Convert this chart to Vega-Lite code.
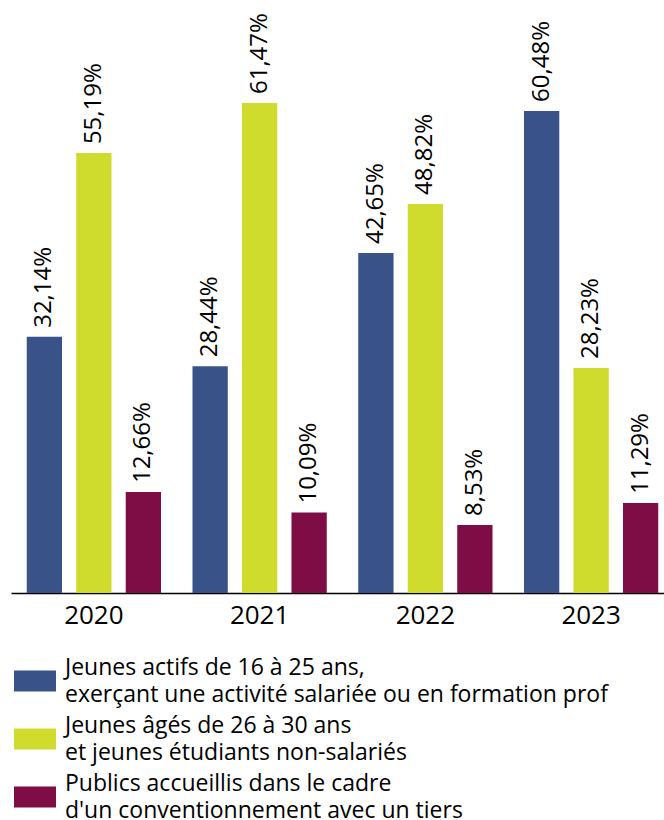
{
  "$schema": "https://vega.github.io/schema/vega-lite/v6.json",
  "width": 653,
  "height": 593,
  "autosize": {"type": "none"},
  "padding": {"left": 11, "top": 0, "right": 0, "bottom": 227},
  "background": "white",
  "data": {
    "values": [
      {"year": "2020", "serie": "Jeunes actifs de 16 à 25 ans,|exerçant une activité salariée ou en formation prof", "value": 32.14},
      {"year": "2020", "serie": "Jeunes âgés de 26 à 30 ans|et jeunes étudiants non-salariés", "value": 55.19},
      {"year": "2020", "serie": "Publics accueillis dans le cadre|d'un conventionnement avec un tiers", "value": 12.66},
      {"year": "2021", "serie": "Jeunes actifs de 16 à 25 ans,|exerçant une activité salariée ou en formation prof", "value": 28.44},
      {"year": "2021", "serie": "Jeunes âgés de 26 à 30 ans|et jeunes étudiants non-salariés", "value": 61.47},
      {"year": "2021", "serie": "Publics accueillis dans le cadre|d'un conventionnement avec un tiers", "value": 10.09},
      {"year": "2022", "serie": "Jeunes actifs de 16 à 25 ans,|exerçant une activité salariée ou en formation prof", "value": 42.65},
      {"year": "2022", "serie": "Jeunes âgés de 26 à 30 ans|et jeunes étudiants non-salariés", "value": 48.82},
      {"year": "2022", "serie": "Publics accueillis dans le cadre|d'un conventionnement avec un tiers", "value": 8.53},
      {"year": "2023", "serie": "Jeunes actifs de 16 à 25 ans,|exerçant une activité salariée ou en formation prof", "value": 60.48},
      {"year": "2023", "serie": "Jeunes âgés de 26 à 30 ans|et jeunes étudiants non-salariés", "value": 28.23},
      {"year": "2023", "serie": "Publics accueillis dans le cadre|d'un conventionnement avec un tiers", "value": 11.29}
    ]
  },
  "transform": [
    {"calculate": "replace(format(datum.value, '.2f'), '.', ',') + '%'", "as": "label"}
  ],
  "encoding": {
    "x": {
      "field": "year", "type": "nominal",
      "scale": {"range": [0, 663], "paddingInner": 0, "paddingOuter": 0},
      "axis": {
        "title": null, "labelAngle": 0, "ticks": false, "domainColor": "#000000",
        "domainWidth": 1.5, "labelFontSize": 26, "labelFont": "Open Sans",
        "labelColor": "#000000", "labelPadding": 9
      }
    },
    "xOffset": {
      "field": "serie", "type": "nominal",
      "scale": {"paddingInner": 0.287, "paddingOuter": 0.318},
      "sort": [
        "Jeunes actifs de 16 à 25 ans,|exerçant une activité salariée ou en formation prof",
        "Jeunes âgés de 26 à 30 ans|et jeunes étudiants non-salariés",
        "Publics accueillis dans le cadre|d'un conventionnement avec un tiers"
      ]
    },
    "y": {
      "field": "value", "type": "quantitative",
      "scale": {"domain": [0, 74.4], "nice": false},
      "axis": null
    }
  },
  "layer": [
    {
      "mark": {"type": "bar"},
      "encoding": {
        "color": {
          "field": "serie", "type": "nominal",
          "scale": {
            "domain": [
              "Jeunes actifs de 16 à 25 ans,|exerçant une activité salariée ou en formation prof",
              "Jeunes âgés de 26 à 30 ans|et jeunes étudiants non-salariés",
              "Publics accueillis dans le cadre|d'un conventionnement avec un tiers"
            ],
            "range": ["#395287", "#cfdc2e", "#7f0d45"]
          },
          "legend": {
            "orient": "none",
            "legendX": 3,
            "legendY": 660,
            "direction": "vertical",
            "title": null,
            "padding": 0,
            "symbolType": "M-1,-0.5H1V0.5H-1Z",
            "symbolSize": 1764,
            "symbolStrokeWidth": 0,
            "symbolOpacity": 1,
            "labelExpr": "split(datum.label, '|')",
            "labelFont": "Open Sans",
            "labelFontSize": 23,
            "labelColor": "#000000",
            "labelOffset": 9,
            "labelLimit": 700,
            "rowPadding": 8,
            "encode": {
              "labels": {
                "update": {
                  "lineHeight": {"value": 27},
                  "dy": {"value": -13}
                }
              }
            }
          }
        }
      }
    },
    {
      "mark": {
        "type": "text", "angle": 270, "align": "left", "baseline": "middle",
        "dx": 9, "fontSize": 24, "font": "Open Sans", "color": "#000000"
      },
      "encoding": {
        "text": {"field": "label", "type": "nominal"}
      }
    }
  ],
  "config": {
    "view": {"stroke": null}
  }
}
